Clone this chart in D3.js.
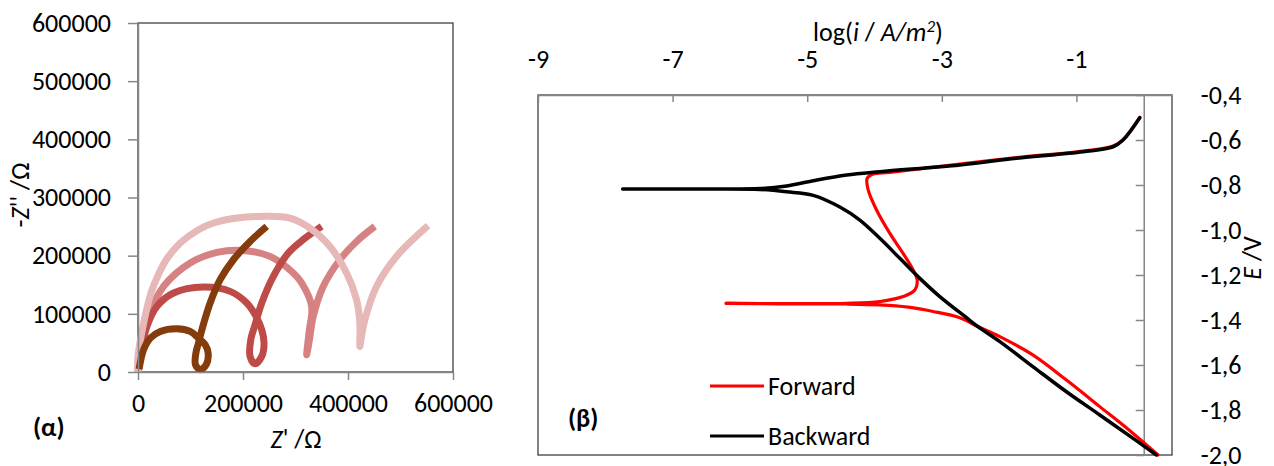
<!DOCTYPE html>
<html>
<head>
<meta charset="utf-8">
<script src="https://cdn.jsdelivr.net/npm/d3@7"></script>
<style>
  body{margin:0;background:#fff;}
  svg text{font-family:Carlito,Calibri,"Open Sans",sans-serif;font-size:26px;fill:#000;}
</style>
</head>
<body>
<svg id="chart" width="1274" height="466"></svg>
<script>
// ---- (α) Nyquist data: [Z', -Z''] in ohm
const nyqTicks=[0,100000,200000,300000,400000,500000,600000];
const nyqXTicks=[0,200000,400000,600000];

const zPink=[[0,0],[3000,40000],[17100,89900],[48700,147100],[99400,187400],[150200,205600],[200700,209000],[251500,198700],[295800,170200],[311800,153000],[330800,112800],[326000,70000],[321300,29700],[326500,55000],[333800,95600],[352800,147100],[384600,193000],[416300,224500],[451100,250300]];
const zRed=[[1000,3000],[4400,26800],[17100,78400],[36100,112800],[67700,135800],[124700,146100],[175500,138600],[207200,118600],[224900,95600],[235700,72700],[240100,49800],[235700,26800],[223000,14300],[213500,26800],[214800,55500],[223000,81300],[235700,118600],[257800,164300],[286300,204600],[316000,228500],[349800,250300]];
const zLight=[[0,0],[0,26800],[9500,78400],[24700,135800],[37300,164300],[53800,193000],[80400,221700],[115200,244600],[143700,256100],[188200,264700],[232500,267500],[289500,264700],[327500,247500],[365600,215900],[397300,170200],[416300,124300],[422600,84200],[422600,44000],[425500,60000],[432100,89900],[454300,147100],[492300,198700],[552500,251500]];
const zBrown=[[2000,5000],[10600,38300],[23400,58400],[42400,69800],[74100,74400],[99400,69800],[115200,58400],[127900,46900],[133600,32700],[129800,12500],[118400,4000],[109500,12500],[110300,32700],[115200,49800],[121700,72700],[137400,118600],[156400,158700],[181700,193000],[213500,224500],[245200,250300]];
const nyqColors=['#D68282','#BE4B48','#E6B8B7','#843C0C'];

// ---- (β) Tafel data: [log(i), E]
const tafelXTicks=[-9,-7,-5,-3,-1];
const tafelYTicks=[-0.4,-0.6,-0.8,-1.0,-1.2,-1.4,-1.6,-1.8,-2.0];

const forward=[[0.213,-2.0],[-0.158,-1.904],[-0.653,-1.785],[-1.148,-1.667],[-1.643,-1.556],[-2.138,-1.474],[-2.460,-1.430],[-2.733,-1.390],[-3.129,-1.362],[-3.5,-1.343],[-3.921,-1.333],[-4.415,-1.329],[-5.406,-1.328],[-6.208,-1.326],[-5.406,-1.327],[-4.415,-1.326],[-3.921,-1.318],[-3.575,-1.296],[-3.401,-1.267],[-3.366,-1.222],[-3.426,-1.178],[-3.575,-1.104],[-3.772,-1.015],[-3.970,-0.911],[-4.094,-0.822],[-4.109,-0.770],[-4.020,-0.751],[-3.772,-0.744],[-2.733,-0.707],[-1.891,-0.678],[-0.901,-0.649],[-0.455,-0.627],[-0.307,-0.598],[-0.059,-0.499]];
const backward=[[-0.059,-0.501],[-0.307,-0.600],[-0.455,-0.630],[-0.901,-0.652],[-1.891,-0.681],[-2.733,-0.711],[-3.921,-0.741],[-4.415,-0.756],[-4.911,-0.781],[-5.306,-0.804],[-5.703,-0.816],[-6.5,-0.818],[-7.742,-0.818],[-6.5,-0.818],[-5.703,-0.820],[-5.306,-0.830],[-4.911,-0.846],[-4.515,-0.898],[-4.218,-0.956],[-3.921,-1.037],[-3.624,-1.126],[-3.327,-1.215],[-3.030,-1.296],[-2.633,-1.390],[-2.460,-1.430],[-2.138,-1.496],[-1.643,-1.608],[-1.148,-1.719],[-0.653,-1.822],[-0.158,-1.926],[0.189,-2.0]];

const svg=d3.select('#chart');

// ================= (α) =================
const xa=d3.scaleLinear().domain([0,600000]).range([138,453]);
const ya=d3.scaleLinear().domain([0,600000]).range([372,23]);
const ga=svg.append('g');

ga.append('rect')
  .attr('x',xa(0)).attr('y',ya(600000))
  .attr('width',xa(600000)-xa(0)).attr('height',ya(0)-ya(600000))
  .attr('fill','none').attr('stroke','#404040').attr('stroke-width',1.3);

const lineA=d3.line().x(d=>xa(d[0])).y(d=>ya(d[1])).curve(d3.curveCatmullRom.alpha(0.5));
ga.selectAll('path.nyq')
  .data([zPink,zRed,zLight,zBrown])
  .join('path')
  .attr('class','nyq')
  .attr('d',lineA)
  .attr('fill','none')
  .attr('stroke',(d,i)=>nyqColors[i])
  .attr('stroke-width',7)
  .attr('stroke-linejoin','round');

const axAy=ga.append('g').attr('transform',`translate(${xa(0)},0)`)
  .call(d3.axisLeft(ya).tickValues(nyqTicks).tickSize(10).tickSizeOuter(0).tickPadding(17).tickFormat(d3.format('d')));
const axAx=ga.append('g').attr('transform',`translate(0,${ya(0)})`)
  .call(d3.axisBottom(xa).tickValues(nyqXTicks).tickSize(8).tickSizeOuter(0).tickPadding(14).tickFormat(d3.format('d')));
[axAy,axAx].forEach(a=>{
  a.select('.domain').attr('stroke','#868686').attr('stroke-width',1.5);
  a.selectAll('.tick line').attr('stroke','#868686').attr('stroke-width',1.5);
});

const tA=ga.append('text').attr('transform','translate(29,195) rotate(-90)').attr('text-anchor','middle');
tA.append('tspan').text('-');
tA.append('tspan').attr('font-style','italic').text('Z');
tA.append('tspan').text("'' /Ω");
const tB=ga.append('text').attr('x',296).attr('y',448).attr('text-anchor','middle');
tB.append('tspan').attr('font-style','italic').text('Z');
tB.append('tspan').text("' /Ω");
ga.append('text').attr('x',33).attr('y',436).attr('font-weight','bold').text('(α)');

// ================= (β) =================
const xb=d3.scaleLinear().domain([-9,0.42]).range([538,1172]);
const yb=d3.scaleLinear().domain([-2,-0.4]).range([455,95]);
const gb=svg.append('g');

gb.append('rect')
  .attr('x',xb(-9)).attr('y',yb(-0.4))
  .attr('width',xb(0.42)-xb(-9)).attr('height',yb(-2)-yb(-0.4))
  .attr('fill','none').attr('stroke','#404040').attr('stroke-width',1.3);

const axBx=gb.append('g').attr('transform',`translate(0,${yb(-0.4)})`)
  .call(d3.axisTop(xb).tickValues(tafelXTicks).tickSizeInner(-7).tickSizeOuter(0).tickPadding(27).tickFormat(d=>String(d)));
const axBy=gb.append('g').attr('transform',`translate(${xb(0)},0)`)
  .call(d3.axisLeft(yb).tickValues(tafelYTicks).tickSize(8).tickSizeOuter(0).tickFormat(d=>d.toFixed(1).replace('.',',')));
axBy.selectAll('.tick text').attr('x',57).attr('text-anchor','start');
[axBx,axBy].forEach(a=>{
  a.select('.domain').attr('stroke','#868686').attr('stroke-width',1.5);
  a.selectAll('.tick line').attr('stroke','#868686').attr('stroke-width',1.5);
});

const lineB=d3.line().x(d=>xb(d[0])).y(d=>yb(d[1])).curve(d3.curveCatmullRom.alpha(0.5));
gb.append('path').datum(forward).attr('d',lineB)
  .attr('fill','none').attr('stroke','#FF0000').attr('stroke-width',3.2).attr('stroke-linejoin','round').attr('stroke-linecap','round');
gb.append('path').datum(backward).attr('d',lineB)
  .attr('fill','none').attr('stroke','#000000').attr('stroke-width',3.5).attr('stroke-linejoin','round').attr('stroke-linecap','round');

const tC=gb.append('text').attr('x',878).attr('y',41).attr('text-anchor','middle');
tC.append('tspan').text('log(');
tC.append('tspan').attr('font-style','italic').text('i');
tC.append('tspan').text(' / ');
tC.append('tspan').attr('font-style','italic').text('A/m');
tC.append('tspan').attr('font-style','italic').attr('font-size','17px').attr('dy',-9).text('2');
tC.append('tspan').attr('dy',9).text(')');

const tD=gb.append('text').attr('transform','translate(1261,258) rotate(-90)').attr('text-anchor','middle');
tD.append('tspan').attr('font-style','italic').text('E');
tD.append('tspan').text(' /V');

gb.append('text').attr('x',568).attr('y',427).attr('font-weight','bold').text('(β)');

const legend=[['Forward','#FF0000',386],['Backward','#000000',436]];
legend.forEach(([name,col,ly])=>{
  gb.append('line').attr('x1',710).attr('x2',764).attr('y1',ly).attr('y2',ly).attr('stroke',col).attr('stroke-width',3.2);
  gb.append('text').attr('x',768).attr('y',ly+9).text(name);
});
</script>
</body>
</html>
